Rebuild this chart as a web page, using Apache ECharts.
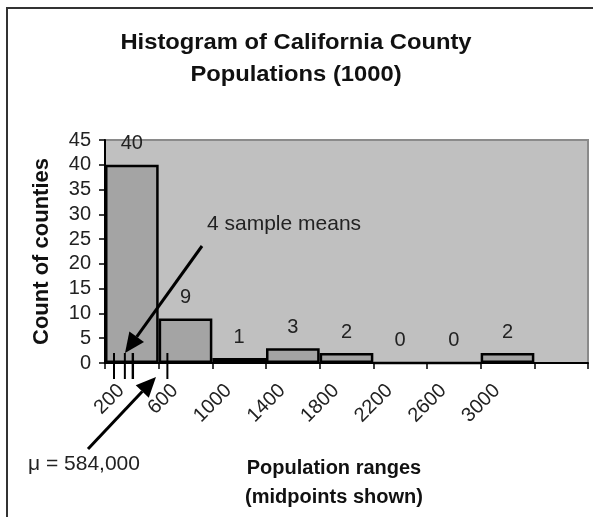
<!DOCTYPE html>
<html>
<head>
<meta charset="utf-8" />
<title>Histogram of California County Populations</title>
<script src="https://cdn.jsdelivr.net/npm/echarts@6/dist/echarts.min.js"></script>
<style>
html, body { margin: 0; padding: 0; background: #fff; }
#main { width: 593px; height: 517px; }
</style>
</head>
<body>
<div id="main"></div>
<script type="text/javascript">
// bins of 400 (thousands), labelled by midpoint
var binLabels = ['200', '600', '1000', '1400', '1800', '2200', '2600', '3000', ''];
var counts = [40, 9, 1, 3, 2, 0, 0, 2, null];
// tick positions under the axis (thousands)
var sampleMeans = [67, 148, 206, 209];
var muMark = 465;

var myChart = echarts.init(document.getElementById('main'));
var font = 'Liberation Sans, Arial, sans-serif';

function arrow(x1, y1, x2, y2) {
    var ang = Math.atan2(y2 - y1, x2 - x1);
    var len = 20, hw = 9;
    var bx = x2 - len * Math.cos(ang), by = y2 - len * Math.sin(ang);
    var nx = -Math.sin(ang) * hw, ny = Math.cos(ang) * hw;
    return [
        { type: 'line', z: 100, shape: { x1: x1, y1: y1, x2: bx, y2: by }, style: { stroke: '#000', lineWidth: 3 } },
        { type: 'polygon', z: 100, shape: { points: [[x2, y2], [bx + nx, by + ny], [bx - nx, by - ny]] }, style: { fill: '#000' } }
    ];
}

var tickData = sampleMeans.map(function (v) { return [v]; });
tickData.push([muMark]);

option = {
    backgroundColor: '#fff',
    textStyle: { fontFamily: font },
    animation: false,
    grid: {
        left: 105, top: 140, right: 5, bottom: 154,
        show: true,
        backgroundColor: '#c0c0c0',
        borderColor: '#8a8a8a',
        borderWidth: 2
    },
    xAxis: [
        {
            type: 'category',
            data: binLabels,
            boundaryGap: true,
            axisLine: { lineStyle: { color: '#000', width: 2 } },
            axisTick: { show: true, interval: 0, length: 6, lineStyle: { color: '#000', width: 1.5 } },
            axisLabel: {
                interval: 0, rotate: 45, margin: 14, padding: [0, 15, 0, 0],
                fontSize: 20, color: '#222', fontFamily: font
            },
            splitLine: { show: false }
        },
        { type: 'value', min: 0, max: 3600, show: false }
    ],
    yAxis: {
        type: 'value',
        min: 0, max: 45, interval: 5,
        name: 'Count of counties',
        nameLocation: 'middle',
        nameGap: 52,
        nameTextStyle: { fontFamily: font, fontSize: 22, fontWeight: 'bold', color: '#111' },
        axisLine: { show: true, lineStyle: { color: '#000', width: 2 } },
        axisTick: { show: true, length: 6, lineStyle: { color: '#000', width: 1.5 } },
        axisLabel: { fontSize: 20, color: '#222', margin: 14, fontFamily: font },
        splitLine: { show: false }
    },
    series: [
        {
            type: 'bar',
            data: counts,
            barWidth: '100%',
            barGap: '-100%',
            itemStyle: { color: '#a4a4a4', borderColor: '#000', borderWidth: 2.5 },
            label: {
                show: true, position: 'top', distance: 11,
                fontSize: 20, color: '#222', fontFamily: font
            }
        },
        {
            type: 'custom',
            xAxisIndex: 1,
            yAxisIndex: 0,
            clip: false,
            z: 10,
            data: tickData,
            encode: { x: 0 },
            renderItem: function (params, api) {
                var p = api.coord([api.value(0), 0]);
                return {
                    type: 'line',
                    shape: { x1: p[0], y1: p[1] - 10, x2: p[0], y2: p[1] + 16 },
                    style: { stroke: '#000', lineWidth: 2 }
                };
            }
        }
    ],
    graphic: [
        { type: 'rect', shape: { x: 7, y: 8, width: 620, height: 540 }, style: { fill: 'none', stroke: '#333', lineWidth: 2 } },
        { type: 'text', x: 296, y: 43, scaleX: 1.08, style: { text: 'Histogram of California County', font: 'bold 22px ' + font, fill: '#111', textAlign: 'center', textVerticalAlign: 'middle' } },
        { type: 'text', x: 296, y: 75, scaleX: 1.08, style: { text: 'Populations (1000)', font: 'bold 22px ' + font, fill: '#111', textAlign: 'center', textVerticalAlign: 'middle' } },
        { type: 'text', z: 100, left: 207, top: 214, style: { text: '4 sample means', font: '21px ' + font, fill: '#222' } },
        { type: 'text', left: 28, top: 454, style: { text: '\u03bc = 584,000', font: '21px ' + font, fill: '#222' } },
        { type: 'text', x: 334, y: 468, style: { text: 'Population ranges', font: 'bold 20px ' + font, fill: '#111', textAlign: 'center', textVerticalAlign: 'middle' } },
        { type: 'text', x: 334, y: 497, style: { text: '(midpoints shown)', font: 'bold 20px ' + font, fill: '#111', textAlign: 'center', textVerticalAlign: 'middle' } }
    ].concat(arrow(202, 246, 125, 353)).concat(arrow(88, 449, 156, 377))
};
myChart.setOption(option);
</script>
</body>
</html>
